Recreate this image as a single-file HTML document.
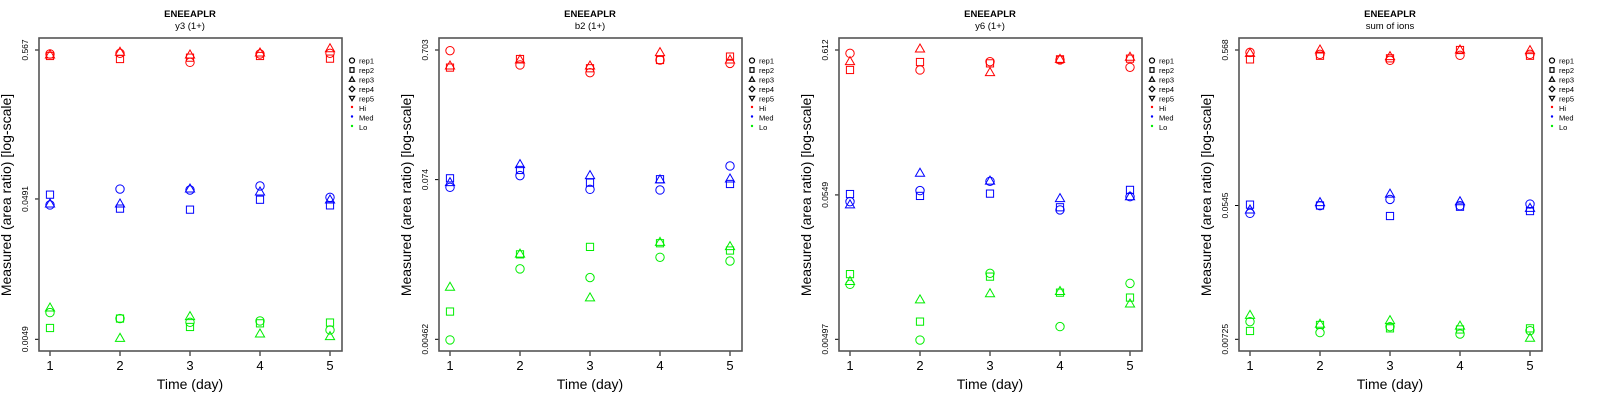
<!DOCTYPE html>
<html><head><meta charset="utf-8"><style>
body{margin:0;background:#fff;}
svg{display:block;font-family:"Liberation Sans",sans-serif;}
</style></head><body>
<svg id="c" width="1600" height="400" xmlns="http://www.w3.org/2000/svg"></svg>
<script>
// Panel metadata
const panelTitles = ["y3 (1+)", "b2 (1+)", "y6 (1+)", "sum of ions"];
const tickLabels = [["0.567","0.0491","0.0049"],["0.703","0.074","0.00462"],["0.612","0.0549","0.00497"],["0.568","0.0545","0.00725"]];
const tickValues = [[0.567,0.0491,0.0049],[0.703,0.074,0.00462],[0.612,0.0549,0.00497],[0.568,0.0545,0.00725]];
const days = [1,2,3,4,5];
const levels = ["Hi","Med","Lo"];
const reps = ["rep1","rep2","rep3"];
// values[level][day][rep]
const p1Hi  = [[0.531,0.514,0.522],[0.537,0.489,0.546],[0.463,0.500,0.522],[0.531,0.514,0.540],[0.537,0.492,0.579]];
const p1Med = [[0.0445,0.0527,0.0452],[0.0578,0.0419,0.0452],[0.0569,0.0412,0.0578],[0.0608,0.0485,0.0551],[0.0504,0.0442,0.0483]];
const p1Lo  = [[0.0076,0.0059,0.0082],[0.00689,0.00689,0.00498],[0.00648,0.0060,0.00711],[0.00662,0.00637,0.00535],[0.00571,0.00645,0.00512]];
const p2Hi  = [[0.695,0.518,0.532],[0.542,0.601,0.591],[0.474,0.512,0.532],[0.591,0.591,0.671],[0.557,0.627,0.591]];
const p2Med = [[0.0647,0.0757,0.0702],[0.0793,0.0875,0.0960],[0.0625,0.0702,0.0793],[0.0618,0.0745,0.0736],[0.0938,0.0686,0.0748]];
const p2Lo  = [[0.00457,0.00748,0.0114],[0.0157,0.0202,0.0203],[0.0135,0.0230,0.00948],[0.0192,0.0245,0.0249],[0.0180,0.0216,0.0231]];
const p3Hi  = [[0.579,0.439,0.504],[0.439,0.501,0.622],[0.504,0.490,0.420],[0.519,0.524,0.524],[0.459,0.530,0.542]];
const p3Med = [[0.0491,0.0557,0.0465],[0.0590,0.0540,0.0787],[0.0689,0.0561,0.0690],[0.0428,0.0447,0.0516],[0.0533,0.0597,0.0533]];
const p3Lo  = [[0.0124,0.0147,0.0130],[0.00491,0.00667,0.00957],[0.0149,0.0141,0.0106],[0.00614,0.0108,0.0110],[0.0126,0.00995,0.00895]];
const p4Hi  = [[0.548,0.493,0.540],[0.532,0.521,0.568],[0.486,0.501,0.514],[0.524,0.568,0.568],[0.532,0.521,0.563]];
const p4Med = [[0.0484,0.0552,0.0509],[0.0543,0.0545,0.0569],[0.0597,0.0465,0.0647],[0.0543,0.0535,0.0577],[0.0557,0.0501,0.0522]];
const p4Lo  = [[0.00946,0.00822,0.0104],[0.00802,0.0090,0.0091],[0.00877,0.00855,0.0096],[0.00785,0.00841,0.00885],[0.00826,0.00855,0.00736]];
const panelData = [[p1Hi,p1Med,p1Lo],[p2Hi,p2Med,p2Lo],[p3Hi,p3Med,p3Lo],[p4Hi,p4Med,p4Lo]];
const levelColors = ["#ff0000","#0000ff","#00ee00"];

const svg = document.getElementById('c');
const NS = "http://www.w3.org/2000/svg";
function mk(tag, attrs, parent){const e=document.createElementNS(NS,tag);for(const k in attrs)e.setAttribute(k,attrs[k]);(parent||svg).appendChild(e);return e;}

function drawMarker(g, shape, cx, cy, col){
  let e;
  if(shape===0){e=mk('circle',{cx:cx,cy:cy,r:4.2,fill:'none',stroke:col,'stroke-width':1},g);}
  else if(shape===1){e=mk('rect',{x:cx-3.6,y:cy-3.6,width:7.2,height:7.2,fill:'none',stroke:col,'stroke-width':1},g);}
  else {e=mk('polygon',{points:`${cx},${cy-5} ${cx-4.6},${cy+3} ${cx+4.6},${cy+3}`,fill:'none',stroke:col,'stroke-width':1},g);}
  return e;
}

for(let p=0;p<4;p++){
  const ox = p*400;
  const g = mk('g',{});
  
  
  const L=39+ox, R=342+ox, T=38, B=351;
  const yTop=50, yBot=339.3;
  const lt=Math.log10(tickValues[p][0]), lb=Math.log10(tickValues[p][2]);
  const yScale = v => yTop + (lt-Math.log10(v))/(lt-lb)*(yBot-yTop);
  const xScale = d => 50+ox + (d-1)*70;

  let t=mk('text',{x:190+ox,y:17,'text-anchor':'middle','font-size':9.5,'font-weight':'bold'},g);
  t.textContent='ENEEAPLR';
  
  
  t=mk('text',{x:190+ox,y:29,'text-anchor':'middle','font-size':9.5},g);
  t.textContent=panelTitles[p];
  
  

  // axes
  for(let i=0;i<3;i++){
    const y=yScale(tickValues[p][i]);
    mk('line',{x1:L-4,y1:y,x2:L,y2:y,stroke:'#000','stroke-width':1},g);
    const tl=mk('text',{x:0,y:0,'text-anchor':'middle','font-size':8.5,transform:`translate(${28+ox},${y}) rotate(-90)`},g);
    tl.textContent=tickLabels[p][i];
    
    
  }
  days.forEach(d=>{
    const x=xScale(d);
    mk('line',{x1:x,y1:B,x2:x,y2:B+5,stroke:'#000','stroke-width':1},g);
    const tl=mk('text',{x:x,y:370,'text-anchor':'middle','font-size':13},g);
    tl.textContent=d;
    
    
  });
  t=mk('text',{x:190+ox,y:389,'text-anchor':'middle','font-size':14},g);
  t.textContent='Time (day)';
  
  
  t=mk('text',{x:0,y:0,'text-anchor':'middle','font-size':14,transform:`translate(${11+ox},195) rotate(-90)`},g);
  t.textContent='Measured (area ratio) [log-scale]';
  
  

  // points
  for(let l=0;l<3;l++){
    const col=levelColors[l];
    for(let di=0;di<days.length;di++){
      for(let r=0;r<reps.length;r++){
        const m=drawMarker(g,r,xScale(days[di]),yScale(panelData[p][l][di][r]),col);
        
        
      }
    }
  }
  const box=mk('rect',{x:L,y:T,width:R-L,height:B-T,fill:'none',stroke:'#555','stroke-width':1.6},g);
  
  

  // legend
  const lg=mk('g',{},g);
  
  
  const items=["rep1","rep2","rep3","rep4","rep5","Hi","Med","Lo"];
  items.forEach((name,i)=>{
    const y=60.5+i*9.5, x=352+ox;
    if(i===0) mk('circle',{cx:x,cy:y,r:2.5,fill:'none',stroke:'#000','stroke-width':1.2},lg);
    else if(i===1) mk('rect',{x:x-2,y:y-2.3,width:4,height:4.6,fill:'none',stroke:'#000','stroke-width':1.2},lg);
    else if(i===2) mk('polygon',{points:`${x},${y-2.8} ${x-2.6},${y+1.8} ${x+2.6},${y+1.8}`,fill:'none',stroke:'#000','stroke-width':1.2},lg);
    else if(i===3) mk('polygon',{points:`${x},${y-2.8} ${x-2.8},${y} ${x},${y+2.8} ${x+2.8},${y}`,fill:'none',stroke:'#000','stroke-width':1.2},lg);
    else if(i===4) mk('polygon',{points:`${x},${y+2.2} ${x-2.6},${y-2.2} ${x+2.6},${y-2.2}`,fill:'none',stroke:'#000','stroke-width':1.2},lg);
    else mk('circle',{cx:x,cy:y-1,r:1.2,fill:levelColors[i-5]},lg);
    const tx=mk('text',{x:359+ox,y:y+3,'font-size':7.5},lg);
    tx.textContent=name;
    
    
  });
}
</script>
</body></html>
